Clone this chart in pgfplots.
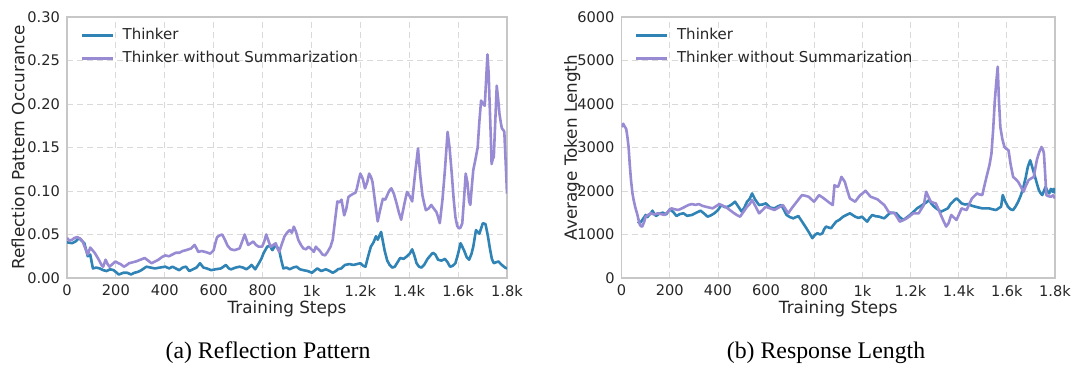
\documentclass[border=0pt]{standalone}
\usepackage{pgfplots}
\pgfplotsset{compat=1.18}
\usepackage{fontspec}
\setmainfont{DejaVu Sans}
\newfontfamily\capfont{Liberation Serif}
\definecolor{tblue}{RGB}{47,131,181}
\definecolor{tpurp}{RGB}{152,139,212}
\definecolor{txt}{RGB}{38,38,38}

\pgfplotsset{
  mystyle/.style={
    scale only axis,
    width=220pt, height=130.5pt,
    xmin=0, xmax=1800,
    xtick={0,200,400,600,800,1000,1200,1400,1600,1800},
    xticklabels={0,200,400,600,800,1k,1.2k,1.4k,1.6k,1.8k},
    grid=major,
    grid style={densely dashed, color=black!15, line width=0.4pt},
    axis line style={color=black!22, line width=0.8pt},
    major tick length=0pt,
    tick label style={font=\fontsize{7.3}{8}\selectfont, color=txt},
    /pgf/number format/assume math mode=true,
    label style={font=\fontsize{8.4}{10}\selectfont, color=txt},
    xlabel={Training Steps},
    xlabel style={at={(axis description cs:0.5,0)}, anchor=center, yshift=-15.5pt},
    ylabel style={anchor=center},
    legend style={at={(0.02,0.99)}, anchor=north west, draw=none, fill=none,
      font=\fontsize{7.5}{8.5}\selectfont, text=txt, row sep=0.5pt, inner sep=2pt,
      nodes={inner xsep=4pt}},
    legend cell align=left,
    legend image code/.code={\draw[#1, line width=1.7pt] (0pt,0pt) -- (15.5pt,0pt);},
    every axis plot/.append style={line width=1.3pt, line join=round},
  }
}

\begin{document}
\begin{tikzpicture}
\useasboundingbox (0,0) rectangle (540pt,185pt);

% ---------------- (a) ----------------
\begin{axis}[mystyle, at={(33.5pt,46pt)}, anchor=south west,
  ymin=0, ymax=0.30,
  ytick={0,0.05,0.10,0.15,0.20,0.25,0.30},
  yticklabels={0.00,0.05,0.10,0.15,0.20,0.25,0.30},
  ylabel={Reflection Pattern Occurance},
  ylabel style={at={(axis description cs:-0.111,0.5)}},
]
\addplot[tblue] coordinates {
(0,0.041) (21,0.040) (35,0.042) (49,0.046) (71,0.040) (85,0.025) (95,0.027) (106,0.011)
(120,0.012) (134,0.011) (148,0.009) (162,0.008) (177,0.010) (191,0.009) (212,0.004)
(230,0.006) (247,0.006) (262,0.004) (275,0.006) (290,0.007) (304,0.009) (325,0.013)
(342,0.012) (360,0.011) (380,0.012) (402,0.013) (418,0.011) (431,0.013) (445,0.011)
(459,0.009) (473,0.012) (487,0.013) (500,0.008) (515,0.010) (530,0.012) (544,0.017)
(558,0.012) (572,0.011) (590,0.009) (607,0.010) (630,0.011) (650,0.015) (662,0.011)
(671,0.010) (690,0.012) (706,0.013) (720,0.012) (734,0.010) (748,0.013) (755,0.015)
(770,0.010) (785,0.017) (795,0.022) (805,0.029) (819,0.036) (830,0.037) (840,0.032)
(854,0.038) (868,0.032) (877,0.020) (885,0.011) (898,0.012) (911,0.010) (925,0.012)
(939,0.013) (953,0.010) (967,0.009) (985,0.008) (1002,0.006) (1015,0.009) (1024,0.011)
(1040,0.008) (1059,0.010) (1075,0.008) (1087,0.006) (1100,0.008) (1108,0.010)
(1122,0.011) (1137,0.015) (1155,0.016) (1172,0.015) (1186,0.016) (1200,0.017)
(1212,0.014) (1221,0.013) (1232,0.025) (1243,0.036) (1254,0.041) (1264,0.048)
(1271,0.044) (1285,0.053) (1299,0.032) (1310,0.020) (1320,0.015) (1331,0.012)
(1341,0.013) (1352,0.018) (1363,0.023) (1377,0.022) (1391,0.025) (1402,0.028)
(1412,0.033) (1422,0.025) (1430,0.017) (1440,0.013) (1450,0.012) (1461,0.015)
(1475,0.022) (1487,0.026) (1497,0.029) (1507,0.027) (1518,0.021) (1532,0.020)
(1546,0.022) (1557,0.018) (1567,0.013) (1578,0.014) (1589,0.017) (1600,0.028)
(1610,0.040) (1624,0.032) (1635,0.024) (1645,0.021) (1655,0.028) (1662,0.036)
(1673,0.055) (1687,0.051) (1701,0.063) (1712,0.062) (1722,0.048) (1730,0.034)
(1738,0.022) (1746,0.017) (1755,0.018) (1765,0.019) (1775,0.016) (1783,0.014)
(1792,0.012) (1800,0.011)
};
\addlegendentry{Thinker}
\addplot[tpurp] coordinates {
(0,0.046) (10,0.043) (21,0.044) (30,0.046) (42,0.047) (55,0.045) (64,0.042)
(75,0.034) (85,0.027) (95,0.035) (104,0.032) (113,0.029) (124,0.024) (134,0.019)
(141,0.015) (148,0.013) (158,0.021) (166,0.016) (174,0.013) (186,0.016) (198,0.019)
(210,0.017) (219,0.016) (233,0.013) (245,0.015) (254,0.017) (268,0.018) (282,0.019)
(300,0.021) (318,0.023) (332,0.020) (346,0.017) (360,0.019) (374,0.021) (388,0.024)
(402,0.026) (417,0.025) (431,0.027) (445,0.029) (459,0.029) (473,0.031) (487,0.032)
(498,0.033) (508,0.034) (522,0.038) (530,0.034) (537,0.030) (551,0.031) (565,0.030)
(576,0.029) (586,0.028) (600,0.032) (607,0.040) (614,0.047) (625,0.049) (635,0.050)
(646,0.044) (657,0.037) (670,0.033) (685,0.032) (696,0.033) (706,0.034) (718,0.043)
(727,0.050) (734,0.044) (741,0.038) (752,0.040) (762,0.042) (773,0.038) (784,0.036)
(798,0.036) (807,0.042) (815,0.050) (825,0.042) (833,0.036) (844,0.038) (854,0.040)
(861,0.034) (868,0.030) (880,0.040) (890,0.048) (900,0.052) (911,0.055) (920,0.052)
(928,0.059) (937,0.053) (946,0.044) (957,0.038) (967,0.034) (978,0.033) (988,0.036)
(1000,0.033) (1010,0.030) (1018,0.036) (1024,0.034) (1035,0.031) (1045,0.027)
(1056,0.026) (1066,0.030) (1078,0.036) (1087,0.044) (1096,0.065) (1106,0.088)
(1115,0.087) (1123,0.090) (1134,0.072) (1143,0.080) (1151,0.093) (1160,0.095)
(1172,0.097) (1180,0.098) (1186,0.103) (1193,0.112) (1200,0.120) (1210,0.114)
(1219,0.103) (1228,0.110) (1236,0.120) (1244,0.116) (1250,0.110) (1260,0.088)
(1271,0.065) (1280,0.077) (1292,0.091) (1302,0.090) (1313,0.097) (1320,0.101)
(1327,0.103) (1337,0.097) (1348,0.086) (1358,0.075) (1367,0.067) (1380,0.085)
(1391,0.099) (1402,0.094) (1412,0.088) (1424,0.120) (1436,0.149) (1445,0.118)
(1454,0.095) (1461,0.086) (1468,0.078) (1480,0.080) (1490,0.084) (1500,0.080)
(1511,0.076) (1518,0.070) (1525,0.063) (1536,0.090) (1546,0.124) (1557,0.168)
(1565,0.150) (1574,0.120) (1582,0.090) (1589,0.070) (1596,0.060) (1603,0.057)
(1610,0.058) (1617,0.063) (1624,0.090) (1631,0.120) (1638,0.110) (1645,0.088)
(1650,0.084) (1656,0.105) (1662,0.124) (1670,0.135) (1680,0.150) (1687,0.180)
(1694,0.204) (1702,0.200) (1709,0.198) (1715,0.230) (1720,0.257) (1725,0.235)
(1730,0.192) (1734,0.160) (1737,0.131) (1742,0.137) (1746,0.139) (1752,0.180)
(1758,0.221) (1764,0.205) (1769,0.189) (1775,0.178) (1779,0.172) (1785,0.170)
(1789,0.168) (1795,0.130) (1800,0.097)
};
\addlegendentry{Thinker without Summarization}
\end{axis}

% ---------------- (b) ----------------
\begin{axis}[mystyle, at={(310.8pt,46pt)}, anchor=south west,
  width=216.7pt,
  ymin=0, ymax=6000,
  ytick={0,1000,2000,3000,4000,5000,6000},
  yticklabels={0,1000,2000,3000,4000,5000,6000},
  ylabel={Average Token Length},
  ylabel style={at={(axis description cs:-0.114,0.5)}},
]
\addplot[tblue] coordinates {
(67,1296) (76,1260) (86,1334) (100,1449) (107,1400) (114,1449) (121,1480) (128,1548)
(136,1470) (143,1426) (157,1480) (171,1502) (185,1460) (200,1578) (214,1520)
(228,1426) (242,1470) (257,1487) (272,1430) (292,1449) (310,1500) (328,1548)
(343,1480) (357,1410) (371,1440) (385,1487) (400,1560) (414,1677) (428,1630)
(442,1639) (457,1690) (471,1754) (485,1640) (499,1525) (510,1620) (521,1754)
(532,1820) (542,1944) (555,1800) (571,1677) (585,1690) (599,1715) (617,1620)
(635,1601) (650,1650) (663,1677) (675,1560) (685,1449) (699,1400) (713,1372)
(724,1400) (734,1426) (749,1300) (763,1182) (778,1050) (792,915) (803,990)
(813,1029) (824,1000) (834,1029) (841,1120) (849,1182) (860,1160) (870,1144)
(880,1220) (891,1296) (905,1340) (920,1410) (934,1450) (948,1487) (959,1450)
(970,1410) (984,1380) (998,1410) (1009,1350) (1020,1296) (1030,1380) (1041,1449)
(1055,1420) (1070,1410) (1080,1390) (1091,1372) (1102,1430) (1113,1487)
(1127,1500) (1141,1487) (1155,1400) (1170,1334) (1184,1390) (1198,1449)
(1212,1520) (1227,1601) (1241,1650) (1255,1700) (1266,1740) (1277,1792)
(1288,1700) (1298,1639) (1312,1580) (1326,1525) (1340,1560) (1355,1601)
(1366,1700) (1376,1754) (1384,1800) (1391,1830) (1401,1780) (1412,1715)
(1426,1690) (1441,1700) (1455,1660) (1469,1639) (1483,1620) (1498,1601)
(1512,1600) (1526,1601) (1540,1580) (1555,1563) (1565,1600) (1576,1639)
(1583,1906) (1594,1750) (1605,1639) (1615,1580) (1626,1563) (1637,1650)
(1647,1754) (1658,1900) (1669,2097) (1678,2300) (1687,2554) (1697,2707)
(1708,2500) (1719,2287) (1726,2150) (1733,2020) (1740,1950) (1747,1906)
(1754,2000) (1761,2097) (1768,2000) (1776,1944) (1783,2050) (1790,1982)
(1795,2050) (1800,1944)
};
\addlegendentry{Thinker}
\addplot[tpurp] coordinates {
(0,3469) (4,3520) (7,3545) (13,3480) (19,3430) (24,3250) (29,3011) (34,2600)
(39,2249) (45,1950) (50,1792) (57,1620) (64,1487) (70,1350) (76,1220) (81,1190)
(86,1182) (93,1280) (100,1410) (110,1450) (121,1487) (135,1460) (150,1487)
(164,1470) (178,1449) (192,1520) (207,1601) (221,1580) (235,1563) (250,1600)
(264,1639) (278,1680) (292,1700) (306,1680) (321,1700) (335,1660) (349,1639)
(364,1620) (378,1601) (392,1650) (406,1700) (420,1660) (435,1624) (450,1560)
(464,1502) (478,1450) (492,1410) (506,1520) (521,1639) (532,1700) (542,1792)
(557,1640) (571,1487) (585,1560) (599,1639) (617,1600) (635,1563) (652,1620)
(670,1677) (681,1580) (692,1487) (706,1600) (720,1700) (734,1800) (749,1906)
(763,1890) (777,1868) (788,1810) (799,1754) (810,1830) (820,1906) (835,1850)
(849,1792) (863,1730) (877,1677) (884,2135) (891,2110) (899,2097) (906,2200)
(913,2325) (920,2270) (927,2211) (937,2020) (948,1830) (959,1790) (970,1754)
(980,1830) (991,1906) (1002,1950) (1013,2005) (1023,1940) (1034,1868)
(1048,1840) (1063,1807) (1077,1740) (1091,1677) (1100,1600) (1108,1525)
(1121,1500) (1134,1487) (1145,1390) (1155,1296) (1170,1330) (1184,1372)
(1198,1430) (1212,1487) (1223,1487) (1234,1487) (1244,1580) (1255,1677)
(1260,1830) (1265,1982) (1275,1860) (1284,1754) (1295,1730) (1305,1715)
(1316,1580) (1326,1449) (1337,1310) (1348,1182) (1358,1260) (1369,1449)
(1380,1390) (1391,1334) (1401,1460) (1412,1601) (1422,1580) (1433,1563)
(1444,1700) (1455,1830) (1466,1890) (1476,1944) (1487,1920) (1498,1906)
(1508,2150) (1519,2402) (1528,2600) (1536,2859) (1543,3400) (1550,4079)
(1556,4500) (1562,4856) (1567,4100) (1573,3469) (1581,3200) (1590,3011)
(1598,2970) (1607,2935) (1616,2600) (1626,2325) (1637,2270) (1647,2211)
(1658,2100) (1669,1982) (1679,2120) (1690,2249) (1701,2290) (1712,2325)
(1719,2550) (1726,2745) (1735,2900) (1744,3011) (1750,2950) (1754,2859)
(1759,2400) (1764,1906) (1773,1880) (1783,1868) (1792,1900) (1800,1830)
};
\addlegendentry{Thinker without Summarization}
\end{axis}

\node[anchor=base, font=\capfont\fontsize{11.9}{13}\selectfont, text=black] at (134pt,6pt) {(a) Reflection Pattern};
\node[anchor=base, font=\capfont\fontsize{11.9}{13}\selectfont, text=black] at (413pt,6pt) {(b) Response Length};
\end{tikzpicture}
\end{document}
